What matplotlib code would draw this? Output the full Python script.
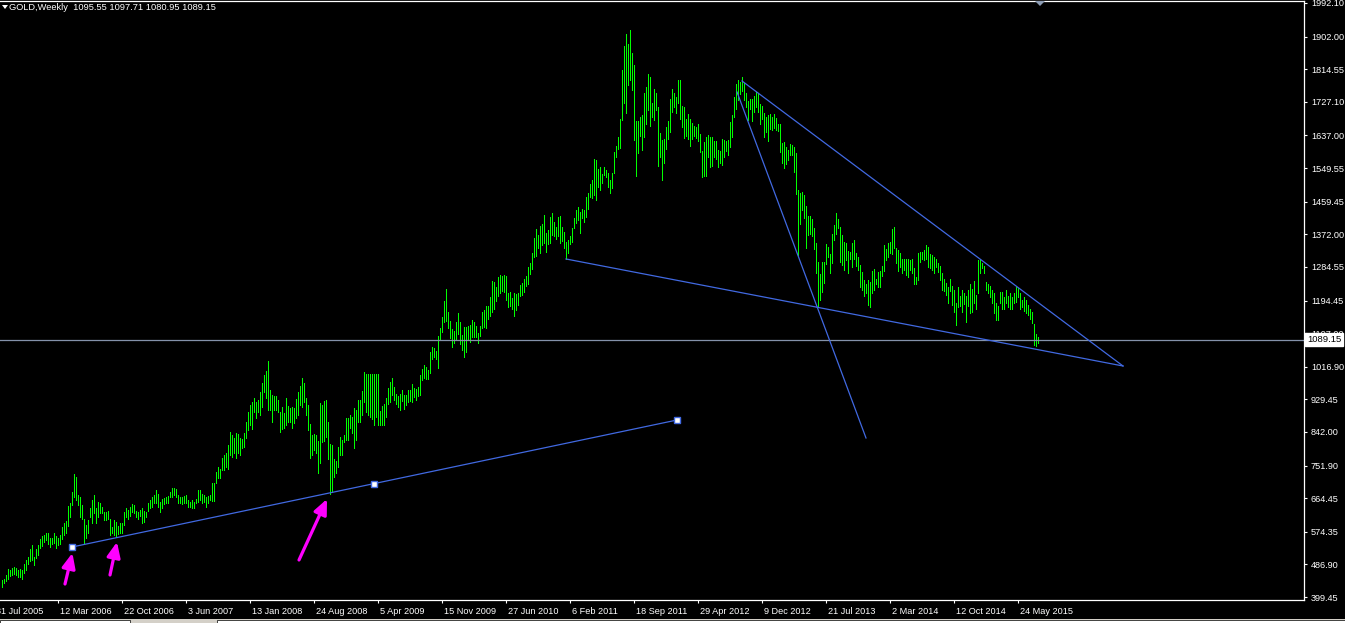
import matplotlib
matplotlib.use('Agg')
import matplotlib.pyplot as plt
import numpy as np
from matplotlib.patches import Polygon, Rectangle

# weekly GOLD bars, week of 28 Aug 2005 .. week of 2 Aug 2015
highs = [
    445, 449, 458, 474, 472, 476, 479, 476, 472, 474, 472, 488, 499, 508, 527, 539, 508, 527, 539, 554,
    563, 566, 572, 570, 557, 559, 570, 563, 557, 566, 588, 597, 603, 643, 652, 682, 729, 720, 673, 668,
    646, 610, 592, 606, 637, 660, 673, 637, 655, 652, 642, 628, 628, 631, 608, 588, 606, 601, 590, 599,
    597, 628, 637, 633, 642, 649, 646, 631, 628, 634, 637, 631, 628, 651, 660, 667, 673, 686, 677, 655,
    661, 664, 667, 670, 682, 691, 691, 688, 673, 667, 668, 670, 673, 660, 655, 660, 655, 661, 686, 686,
    676, 673, 668, 670, 673, 704, 706, 736, 749, 744, 771, 780, 785, 807, 843, 834, 825, 838, 837, 825,
    822, 840, 870, 896, 914, 923, 932, 923, 928, 950, 972, 995, 1006, 1031, 955, 941, 938, 938, 928, 896,
    910, 894, 932, 912, 905, 910, 905, 930, 950, 965, 986, 972, 932, 914, 863, 834, 837, 834, 819, 919,
    914, 926, 928, 870, 810, 807, 769, 765, 803, 829, 820, 834, 879, 879, 887, 883, 905, 901, 928, 928,
    953, 1004, 997, 997, 997, 997, 997, 997, 997, 899, 912, 917, 932, 959, 977, 988, 962, 945, 938, 945,
    954, 941, 941, 954, 954, 971, 959, 956, 962, 995, 1010, 1021, 1017, 1008, 1057, 1071, 1066, 1060, 1099, 1120,
    1151, 1194, 1224, 1165, 1140, 1117, 1114, 1138, 1162, 1138, 1102, 1124, 1124, 1126, 1129, 1142, 1138, 1126, 1108, 1126,
    1165, 1169, 1180, 1180, 1203, 1248, 1245, 1230, 1257, 1263, 1260, 1263, 1260, 1214, 1218, 1200, 1214, 1212, 1215, 1236,
    1241, 1251, 1260, 1283, 1296, 1321, 1361, 1385, 1370, 1394, 1400, 1424, 1376, 1384, 1418, 1428, 1406, 1392, 1418, 1421,
    1391, 1379, 1352, 1357, 1367, 1388, 1415, 1437, 1446, 1433, 1439, 1437, 1471, 1484, 1507, 1518, 1573, 1571, 1546, 1553,
    1534, 1553, 1544, 1537, 1517, 1537, 1593, 1609, 1632, 1680, 1812, 1877, 1909, 1882, 1920, 1859, 1826, 1677, 1677, 1687,
    1692, 1750, 1768, 1802, 1793, 1725, 1761, 1752, 1712, 1643, 1625, 1627, 1660, 1677, 1736, 1761, 1752, 1741, 1786, 1787,
    1716, 1712, 1680, 1694, 1680, 1671, 1662, 1659, 1669, 1641, 1596, 1620, 1632, 1638, 1634, 1632, 1623, 1623, 1598, 1596,
    1627, 1625, 1623, 1625, 1674, 1692, 1741, 1775, 1786, 1781, 1793, 1777, 1752, 1730, 1734, 1734, 1743, 1754, 1750, 1721,
    1716, 1698, 1686, 1692, 1694, 1687, 1694, 1683, 1668, 1668, 1618, 1620, 1607, 1598, 1614, 1611, 1607, 1589, 1492, 1482,
    1486, 1477, 1448, 1421, 1421, 1412, 1388, 1348, 1298, 1265, 1298, 1298, 1346, 1339, 1319, 1374, 1397, 1430, 1412, 1392,
    1370, 1352, 1349, 1328, 1325, 1349, 1357, 1323, 1310, 1290, 1272, 1249, 1240, 1249, 1245, 1274, 1278, 1251, 1272, 1274,
    1287, 1343, 1332, 1348, 1352, 1385, 1391, 1334, 1330, 1323, 1305, 1305, 1305, 1307, 1303, 1305, 1281, 1258, 1321, 1325,
    1325, 1330, 1343, 1339, 1319, 1316, 1312, 1305, 1296, 1287, 1269, 1251, 1242, 1231, 1251, 1233, 1222, 1187, 1231, 1206,
    1222, 1215, 1206, 1222, 1239, 1224, 1248, 1209, 1303, 1305, 1296, 1287, 1245, 1239, 1233, 1222, 1214, 1187, 1180, 1218,
    1218, 1205, 1222, 1206, 1214, 1203, 1214, 1230, 1227, 1214, 1197, 1203, 1196, 1182, 1173, 1164, 1131, 1104, 1097.71,
]
lows = [
    427, 436, 443, 449, 456, 458, 461, 458, 452, 452, 449, 463, 472, 488, 497, 499, 485, 503, 512, 530,
    536, 548, 552, 543, 533, 543, 545, 530, 539, 543, 554, 566, 570, 590, 615, 646, 668, 660, 646, 615,
    610, 542, 557, 572, 615, 599, 624, 599, 615, 626, 624, 606, 606, 610, 566, 570, 566, 561, 568, 572,
    570, 592, 615, 610, 617, 628, 626, 615, 610, 617, 599, 601, 615, 631, 637, 642, 651, 651, 642, 628,
    637, 649, 651, 651, 667, 668, 673, 667, 651, 651, 649, 651, 651, 642, 642, 637, 637, 651, 655, 660,
    651, 655, 642, 651, 660, 657, 658, 704, 718, 718, 740, 740, 747, 744, 780, 776, 785, 771, 785, 780,
    798, 803, 825, 847, 861, 849, 896, 879, 896, 888, 910, 950, 932, 901, 901, 870, 901, 901, 896, 843,
    849, 854, 861, 870, 870, 854, 867, 879, 888, 914, 910, 923, 888, 847, 771, 780, 794, 785, 733, 758,
    816, 819, 829, 769, 677, 682, 722, 731, 749, 780, 780, 816, 820, 820, 852, 838, 798, 820, 869, 869,
    887, 923, 896, 887, 881, 878, 861, 881, 861, 861, 861, 861, 881, 917, 923, 941, 928, 917, 910, 901,
    926, 903, 914, 923, 926, 923, 937, 928, 938, 941, 981, 986, 983, 983, 999, 1039, 1044, 1037, 1013, 1091,
    1111, 1138, 1140, 1120, 1093, 1071, 1080, 1089, 1105, 1078, 1062, 1042, 1057, 1089, 1084, 1096, 1096, 1097, 1081, 1099,
    1120, 1123, 1120, 1144, 1153, 1165, 1173, 1194, 1207, 1214, 1221, 1218, 1196, 1178, 1180, 1173, 1153, 1169, 1182, 1207,
    1209, 1218, 1233, 1239, 1266, 1278, 1310, 1314, 1334, 1323, 1343, 1348, 1325, 1346, 1348, 1370, 1367, 1359, 1367, 1348,
    1355, 1334, 1305, 1321, 1346, 1350, 1388, 1403, 1409, 1376, 1415, 1406, 1418, 1439, 1473, 1470, 1477, 1464, 1500, 1491,
    1510, 1531, 1525, 1500, 1483, 1495, 1537, 1578, 1602, 1604, 1678, 1725, 1698, 1772, 1787, 1759, 1625, 1528, 1591, 1635,
    1598, 1632, 1668, 1705, 1662, 1687, 1678, 1705, 1555, 1580, 1517, 1562, 1602, 1627, 1647, 1701, 1712, 1698, 1723, 1680,
    1659, 1629, 1635, 1627, 1609, 1627, 1635, 1629, 1623, 1593, 1525, 1528, 1528, 1580, 1553, 1555, 1578, 1573, 1553, 1562,
    1558, 1578, 1596, 1584, 1607, 1634, 1686, 1707, 1732, 1748, 1757, 1732, 1712, 1678, 1707, 1677, 1701, 1712, 1701, 1669,
    1680, 1632, 1647, 1623, 1653, 1652, 1656, 1652, 1650, 1593, 1562, 1549, 1560, 1571, 1584, 1584, 1540, 1480, 1316, 1400,
    1437, 1415, 1334, 1370, 1374, 1367, 1332, 1267, 1178, 1196, 1218, 1242, 1292, 1312, 1267, 1294, 1357, 1374, 1388, 1298,
    1290, 1276, 1303, 1267, 1307, 1285, 1305, 1287, 1276, 1231, 1222, 1206, 1214, 1182, 1178, 1214, 1222, 1239, 1231, 1231,
    1260, 1274, 1303, 1312, 1321, 1319, 1334, 1296, 1274, 1285, 1267, 1276, 1263, 1258, 1276, 1269, 1239, 1240, 1249, 1298,
    1305, 1303, 1305, 1285, 1281, 1276, 1269, 1285, 1272, 1249, 1222, 1221, 1209, 1187, 1221, 1182, 1164, 1129, 1176, 1180,
    1164, 1185, 1138, 1180, 1162, 1164, 1187, 1173, 1214, 1267, 1281, 1267, 1222, 1214, 1205, 1187, 1160, 1142, 1142, 1187,
    1173, 1173, 1187, 1178, 1171, 1173, 1189, 1191, 1205, 1173, 1178, 1167, 1160, 1155, 1144, 1133, 1075, 1072, 1080.95,
]
last_ohlc = [1095.55, 1097.71, 1080.95, 1089.15]

price_ticks = [1992.10, 1902.00, 1814.55, 1727.10, 1637.00, 1549.55, 1459.45, 1372.00, 1284.55,
               1194.45, 1107.00, 1016.90, 929.45, 842.00, 751.90, 664.45, 574.35, 486.90, 399.45]
date_ticks = [-4, 28, 60, 92, 124, 156, 188, 220, 252, 284, 316, 348, 380, 412, 444, 476, 508]
date_labels = ['31 Jul 2005', '12 Mar 2006', '22 Oct 2006', '3 Jun 2007', '13 Jan 2008', '24 Aug 2008',
               '5 Apr 2009', '15 Nov 2009', '27 Jun 2010', '6 Feb 2011', '18 Sep 2011', '29 Apr 2012',
               '9 Dec 2012', '21 Jul 2013', '2 Mar 2014', '12 Oct 2014', '24 May 2015']

# drawn objects (bar index, price)
support_line = [(35, 533.6), (186, 703.6), (337.5, 874.1)]
wedge_low = [(282, 1305.8), (560.5, 1018.9)]
wedge_high = [(370, 1783.0), (560.5, 1018.9)]
steep_line = [(367.5, 1753.5), (432, 825.9)]
arrows = [((31.5, 434.4), (35.2, 517.6)),
          ((54, 458.6), (57.5, 547.0)),
          ((148.5, 498.8), (162.5, 662.3))]

plt.rcParams['font.family'] = 'Liberation Sans'
W, H = 1345, 623
fig = plt.figure(figsize=(W / 100, H / 100), dpi=100, facecolor='black')
ax = fig.add_axes([0, 23 / H, 1304 / W, 599 / H])
ax.set_facecolor('black')

k = np.arange(len(highs))
ax.vlines(k, lows, highs, colors='#00ff00', linewidth=0.72, antialiased=False)

blue = '#4169e1'
ax.axhline(last_ohlc[3], color='#8492aa', lw=0.9)
for line in (support_line, wedge_low, wedge_high, steep_line):
    xs, ys = zip(*line)
    ax.plot([xs[0], xs[-1]], [ys[0], ys[-1]], color=blue, lw=0.9)
xs, ys = zip(*support_line)
ax.plot(xs, ys, ls='', marker='s', ms=4, mfc='white', mec=blue, mew=1)

for tail, tip in arrows:
    ax.annotate('', xy=tip, xytext=tail,
                arrowprops=dict(arrowstyle='-|>,head_length=0.9,head_width=0.4',
                                color='#ff00ff', lw=2.3, shrinkA=0, shrinkB=0))

# axes frame
ax.spines['left'].set_visible(False)
for s in ['right', 'bottom', 'top']:
    ax.spines[s].set_color('white')
    ax.spines[s].set_linewidth(0.9)

ax.yaxis.tick_right()
ax.set_yticks(price_ticks)
ax.set_yticklabels(['%.2f' % p for p in price_ticks])
ax.tick_params(axis='y', colors='white', labelsize=6.6, length=2.5, width=0.8, pad=2.5)

ax.set_xticks(date_ticks)
ax.set_xticklabels([])
ax.tick_params(axis='x', colors='white', length=2.5, width=0.8, direction='out')

# limits last, so the ticks cannot widen them
ax.set_xlim(-1, 651)
ax.set_ylim(391.54, 1997.46)

for t, lab in zip(date_ticks, date_labels):
    ax.text(t + 1.2, -11 / 599, lab, transform=ax.get_xaxis_transform(), color='white',
            fontsize=6.6, ha='left', va='center', clip_on=False)

# current price box on the scale
ax.text(1.0 + 3 / 1304, last_ohlc[3], '%.2f' % last_ohlc[3],
        transform=ax.get_yaxis_transform(), color='black', fontsize=6.8, ha='left', va='center',
        bbox=dict(boxstyle='square,pad=0.2', fc='white', ec='white'), zorder=10, clip_on=False)

# header
fig.text(9 / W, 1 - 8 / H, 'GOLD,Weekly  ' + ' '.join('%.2f' % v for v in last_ohlc),
         color='white', fontsize=6.7, ha='left', va='center')
fig.add_artist(Polygon([(2, H - 5), (8, H - 5), (5, H - 9)], closed=True, fc='white', ec='none',
                       transform=None))
# chart shift marker
fig.add_artist(Polygon([(1035, H - 1), (1045, H - 1), (1040, H - 6)], closed=True,
                       fc='#8c9cb4', ec='none', transform=None))
# bottom tab strip
fig.add_artist(Rectangle((0, 0), W, 4, fc='#d4d0c8', ec='none', transform=None))
fig.add_artist(Rectangle((0, 0), 130, 3, fc='white', ec='black', lw=0.5, transform=None))
fig.add_artist(Rectangle((217, 0), W - 217, 3, fc='white', ec='black', lw=0.5, transform=None))

fig.savefig('out.png', dpi=100, facecolor='black')
